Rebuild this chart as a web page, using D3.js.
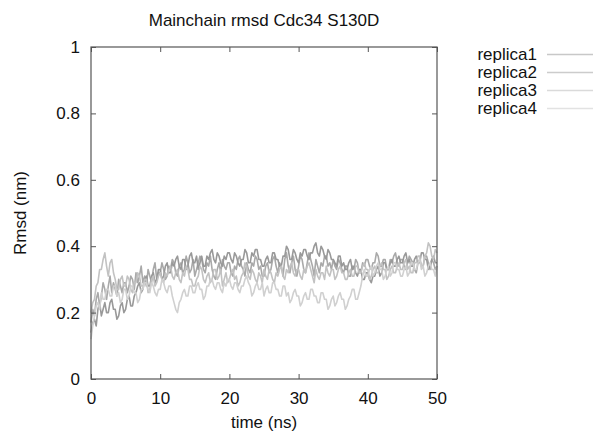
<!DOCTYPE html>
<html>
<head>
<meta charset="utf-8">
<script src="https://cdn.jsdelivr.net/npm/d3@7"></script>
<style>
  body { margin: 0; background: #fff; }
  text { font-family: "Liberation Sans", Arial, sans-serif; fill: #111; }
</style>
</head>
<body>
<div id="chart"></div>
<script>
// data: rmsd (nm) sampled every 0.25 ns, 0..50 ns
const dt = 0.25
const seriesNames = ["replica1", "replica2", "replica3", "replica4"]
const seriesColors = ["#a9a9a9", "#999999", "#c2c2c2", "#d0d0d0"]
const legendColors = ["#c8c8c8", "#cccccc", "#dadada", "#e2e2e2"]
const xTicks = [0, 10, 20, 30, 40, 50]
const yTicks = [0, 0.2, 0.4, 0.6, 0.8, 1]

const replica1 = [
  0.17,0.21,0.19,0.24,0.26,0.22,0.25,0.29,0.27,0.24,0.28,0.31,0.26,0.29,0.27,0.25,0.30,0.28,0.26,0.29,
  0.29,0.26,0.28,0.31,0.30,0.27,0.32,0.29,0.31,0.34,0.29,0.31,0.28,0.33,0.31,0.29,0.33,0.35,0.30,0.32,
  0.32,0.35,0.33,0.30,0.31,0.34,0.33,0.36,0.35,0.32,0.31,0.34,0.35,0.32,0.33,0.37,0.35,0.32,0.33,0.36,
  0.31,0.33,0.35,0.37,0.36,0.33,0.32,0.35,0.34,0.37,0.33,0.31,0.30,0.33,0.35,0.32,0.36,0.34,0.33,0.35,
  0.35,0.32,0.31,0.34,0.33,0.36,0.37,0.34,0.33,0.31,0.35,0.33,0.32,0.35,0.34,0.37,0.36,0.33,0.34,0.31,
  0.31,0.34,0.35,0.32,0.33,0.36,0.37,0.34,0.32,0.35,0.34,0.31,0.36,0.38,0.34,0.32,0.35,0.37,0.33,0.31,
  0.34,0.37,0.36,0.33,0.32,0.35,0.38,0.36,0.34,0.31,0.36,0.34,0.32,0.35,0.34,0.37,0.37,0.34,0.35,0.33,
  0.36,0.34,0.33,0.36,0.35,0.33,0.32,0.34,0.34,0.31,0.31,0.34,0.33,0.36,0.35,0.32,0.32,0.35,0.34,0.36,
  0.36,0.34,0.33,0.35,0.35,0.38,0.37,0.34,0.34,0.36,0.36,0.33,0.33,0.36,0.35,0.37,0.38,0.35,0.34,0.36,
  0.36,0.34,0.33,0.35,0.37,0.36,0.35,0.33,0.32,0.35,0.36,0.34,0.34,0.37,0.37,0.35,0.33,0.36,0.35,0.33,
  0.34]
const replica2 = [
  0.14,0.17,0.18,0.16,0.21,0.23,0.19,0.21,0.23,0.20,0.20,0.23,0.24,0.21,0.21,0.18,0.19,0.22,0.23,0.20,
  0.21,0.24,0.25,0.22,0.22,0.25,0.26,0.28,0.29,0.26,0.27,0.30,0.31,0.28,0.28,0.31,0.32,0.29,0.30,0.33,
  0.33,0.30,0.31,0.34,0.35,0.32,0.32,0.35,0.34,0.36,0.37,0.34,0.33,0.36,0.36,0.33,0.34,0.37,0.38,0.35,
  0.35,0.37,0.33,0.35,0.37,0.34,0.34,0.37,0.36,0.38,0.39,0.36,0.35,0.38,0.37,0.35,0.34,0.37,0.36,0.38,
  0.38,0.36,0.35,0.38,0.37,0.35,0.34,0.36,0.36,0.39,0.38,0.35,0.35,0.38,0.37,0.39,0.39,0.36,0.36,0.34,
  0.34,0.36,0.37,0.35,0.35,0.38,0.38,0.36,0.36,0.34,0.34,0.37,0.37,0.40,0.39,0.36,0.36,0.39,0.38,0.36,
  0.35,0.38,0.37,0.39,0.39,0.37,0.36,0.38,0.38,0.40,0.41,0.38,0.37,0.40,0.39,0.37,0.36,0.39,0.38,0.36,
  0.36,0.35,0.34,0.37,0.37,0.34,0.35,0.33,0.33,0.35,0.36,0.33,0.34,0.32,0.31,0.33,0.33,0.30,0.30,0.32,
  0.32,0.30,0.29,0.31,0.31,0.33,0.34,0.31,0.32,0.35,0.35,0.33,0.33,0.35,0.36,0.34,0.34,0.36,0.37,0.35,
  0.35,0.37,0.38,0.35,0.36,0.34,0.34,0.36,0.37,0.35,0.35,0.38,0.38,0.36,0.36,0.33,0.34,0.36,0.37,0.35,
  0.35]
const replica3 = [
  0.20,0.23,0.24,0.28,0.29,0.33,0.33,0.36,0.38,0.34,0.31,0.35,0.36,0.32,0.30,0.27,0.27,0.30,0.31,0.28,
  0.28,0.31,0.30,0.27,0.26,0.29,0.29,0.32,0.31,0.28,0.28,0.30,0.30,0.26,0.27,0.30,0.31,0.28,0.29,0.31,
  0.32,0.30,0.29,0.32,0.31,0.33,0.34,0.31,0.30,0.32,0.33,0.30,0.29,0.32,0.31,0.34,0.33,0.30,0.30,0.28,
  0.28,0.30,0.31,0.34,0.33,0.30,0.29,0.31,0.32,0.29,0.30,0.33,0.33,0.30,0.31,0.33,0.28,0.30,0.32,0.29,
  0.30,0.32,0.33,0.30,0.31,0.28,0.29,0.31,0.32,0.35,0.34,0.31,0.30,0.33,0.32,0.30,0.29,0.32,0.31,0.29,
  0.33,0.31,0.30,0.33,0.32,0.30,0.29,0.32,0.31,0.33,0.34,0.31,0.30,0.33,0.32,0.34,0.35,0.32,0.31,0.33,
  0.33,0.31,0.30,0.33,0.32,0.34,0.35,0.33,0.31,0.29,0.33,0.31,0.30,0.32,0.32,0.30,0.34,0.32,0.31,0.33,
  0.33,0.30,0.31,0.33,0.34,0.32,0.32,0.30,0.30,0.32,0.33,0.31,0.31,0.34,0.34,0.32,0.32,0.34,0.35,0.33,
  0.33,0.30,0.31,0.33,0.34,0.32,0.32,0.34,0.35,0.33,0.33,0.30,0.31,0.33,0.34,0.32,0.32,0.34,0.35,0.33,
  0.33,0.35,0.36,0.33,0.34,0.32,0.32,0.35,0.35,0.37,0.37,0.34,0.34,0.37,0.38,0.41,0.40,0.37,0.36,0.39,
  0.38]
const replica4 = [
  0.12,0.16,0.19,0.22,0.23,0.21,0.26,0.24,0.24,0.27,0.27,0.25,0.25,0.28,0.28,0.25,0.26,0.23,0.24,0.27,
  0.27,0.24,0.25,0.28,0.28,0.26,0.26,0.23,0.24,0.27,0.27,0.29,0.29,0.27,0.26,0.29,0.28,0.26,0.25,0.27,
  0.27,0.30,0.29,0.27,0.26,0.28,0.28,0.25,0.23,0.21,0.20,0.23,0.24,0.26,0.27,0.25,0.25,0.28,0.28,0.26,
  0.26,0.28,0.29,0.27,0.27,0.24,0.25,0.28,0.28,0.30,0.30,0.28,0.27,0.29,0.29,0.27,0.26,0.29,0.28,0.30,
  0.30,0.28,0.27,0.29,0.29,0.27,0.26,0.28,0.28,0.30,0.31,0.29,0.28,0.25,0.26,0.28,0.29,0.27,0.27,0.29,
  0.25,0.27,0.28,0.26,0.26,0.29,0.29,0.27,0.27,0.25,0.25,0.28,0.28,0.25,0.26,0.23,0.24,0.26,0.27,0.25,
  0.25,0.22,0.23,0.25,0.26,0.24,0.24,0.27,0.27,0.25,0.25,0.23,0.23,0.26,0.26,0.24,0.24,0.21,0.22,0.24,
  0.25,0.22,0.23,0.25,0.26,0.24,0.24,0.21,0.22,0.24,0.25,0.27,0.27,0.24,0.24,0.26,0.28,0.31,0.33,0.31,
  0.31,0.33,0.34,0.31,0.32,0.34,0.35,0.33,0.33,0.30,0.31,0.33,0.34,0.31,0.32,0.35,0.35,0.33,0.33,0.31,
  0.31,0.33,0.34,0.31,0.32,0.35,0.35,0.33,0.33,0.35,0.36,0.33,0.34,0.31,0.32,0.34,0.35,0.33,0.33,0.31,
  0.34]
const allSeries = [replica1, replica2, replica3, replica4]

const width = 595
const height = 434
const margin = {top: 47, right: 158, bottom: 55, left: 91}
const fontSize = "17px"

var xScale = d3.scaleLinear().domain([0, 50]).range([margin.left, width - margin.right])
var yScale = d3.scaleLinear().domain([0, 1]).range([height - margin.bottom, margin.top])

var svg = d3.select("#chart").append("svg")
    .attr("width", width)
    .attr("height", height)

// data lines
var line = d3.line()
    .x(function(d, i) { return xScale(i * dt); })
    .y(function(d) { return yScale(d); })

svg.append("g").attr("class", "lines")
  .selectAll("path")
    .data(allSeries)
    .enter()
    .append("path")
    .attr("d", line)
    .attr("fill", "none")
    .attr("stroke", function(d, i) { return seriesColors[i]; })
    .attr("stroke-width", 1.6)
    .attr("stroke-linejoin", "round")

// axes, ticks inward on all sides
var tickStyle = function(g) {
  g.select(".domain").remove()
  g.selectAll(".tick line").attr("stroke", "#555")
  g.selectAll(".tick text").attr("font-size", fontSize).attr("fill", "#111")
    .attr("font-family", "Liberation Sans, Arial, sans-serif")
}

svg.append("g")
    .attr("transform", "translate(0," + yScale(0) + ")")
    .call(d3.axisBottom(xScale).tickValues(xTicks).tickSize(-5).tickPadding(13).tickFormat(d3.format("d")))
    .call(tickStyle)
svg.append("g")
    .attr("transform", "translate(0," + yScale(1) + ")")
    .call(d3.axisTop(xScale).tickValues(xTicks).tickSize(-5).tickFormat(""))
    .call(tickStyle)
svg.append("g")
    .attr("transform", "translate(" + xScale(0) + ",0)")
    .call(d3.axisLeft(yScale).tickValues(yTicks).tickSize(-5).tickPadding(11).tickFormat(function(d) { return d3.format("")(+d.toFixed(1)); }))
    .call(tickStyle)
svg.append("g")
    .attr("transform", "translate(" + xScale(50) + ",0)")
    .call(d3.axisRight(yScale).tickValues(yTicks).tickSize(-5).tickFormat(""))
    .call(tickStyle)

// frame
svg.append("rect")
    .attr("x", xScale(0))
    .attr("y", yScale(1))
    .attr("width", xScale(50) - xScale(0))
    .attr("height", yScale(0) - yScale(1))
    .attr("fill", "none")
    .attr("stroke", "#555")
    .attr("stroke-width", 1.2)

// titles
svg.append("text")
    .attr("x", (xScale(0) + xScale(50)) / 2)
    .attr("y", 26)
    .attr("text-anchor", "middle")
    .attr("font-size", fontSize)
    .text("Mainchain rmsd Cdc34 S130D")

svg.append("text")
    .attr("x", (xScale(0) + xScale(50)) / 2)
    .attr("y", 428)
    .attr("text-anchor", "middle")
    .attr("font-size", fontSize)
    .text("time (ns)")

svg.append("text")
    .attr("transform", "translate(26," + (yScale(0.5)) + ") rotate(-90)")
    .attr("text-anchor", "middle")
    .attr("font-size", fontSize)
    .text("Rmsd (nm)")

// legend
var legend = svg.append("g").attr("class", "legend")
  .selectAll("g")
    .data(seriesNames)
    .enter()
    .append("g")
    .attr("transform", function(d, i) { return "translate(0," + (54.5 + i * 18) + ")"; })

legend.append("text")
    .attr("x", 537)
    .attr("y", 5.5)
    .attr("text-anchor", "end")
    .attr("font-size", fontSize)
    .text(function(d) { return d; })

legend.append("line")
    .attr("x1", 547)
    .attr("x2", 593)
    .attr("y1", 0)
    .attr("y2", 0)
    .attr("stroke", function(d, i) { return legendColors[i]; })
    .attr("stroke-width", 1.5)
</script>
</body>
</html>
